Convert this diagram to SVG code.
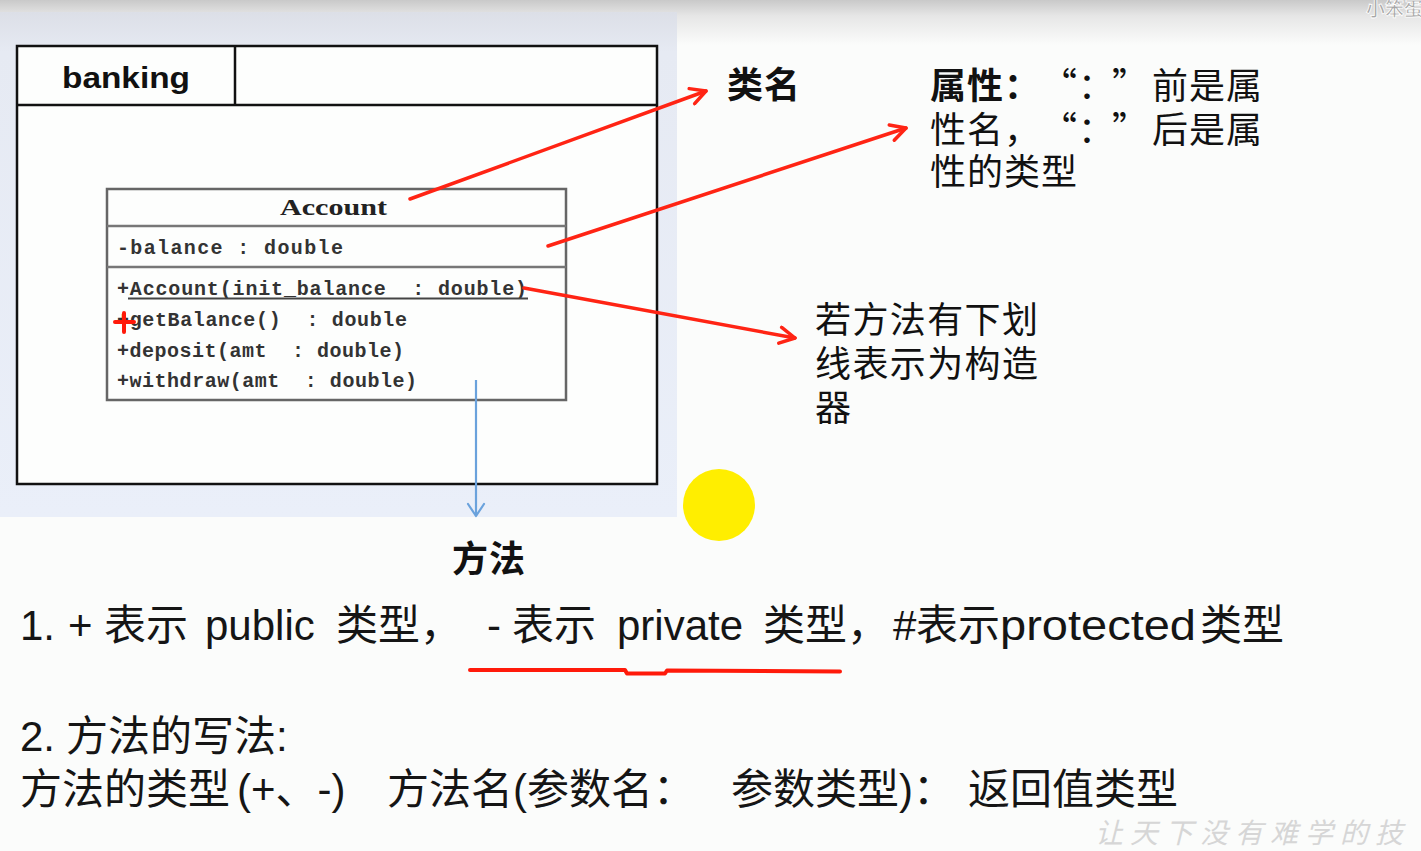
<svg xmlns="http://www.w3.org/2000/svg" width="1421" height="851" viewBox="0 0 1421 851">
  <defs>
    <linearGradient id="topShade" x1="0" y1="0" x2="0" y2="1">
      <stop offset="0" stop-color="#c9c9c9"/>
      <stop offset="0.35" stop-color="#e6e6e6"/>
      <stop offset="1" stop-color="#fbfcfb"/>
    </linearGradient>
    <linearGradient id="panelShade" x1="0" y1="0" x2="0" y2="1">
      <stop offset="0" stop-color="#dcdfe7"/>
      <stop offset="0.08" stop-color="#e6eaf3"/>
      <stop offset="1" stop-color="#eaeff9"/>
    </linearGradient>
    <marker id="redHead" viewBox="0 0 20 20" refX="18" refY="10" markerWidth="20" markerHeight="20" orient="auto" markerUnits="userSpaceOnUse">
      <path d="M3,2 L18,10 L3,18" fill="none" stroke="#ff2414" stroke-width="3.5" stroke-linecap="round" stroke-linejoin="round"/>
    </marker>
    <marker id="blueHead" viewBox="0 0 20 20" refX="18" refY="10" markerWidth="20" markerHeight="20" orient="auto" markerUnits="userSpaceOnUse">
      <path d="M6,2 L18,10 L6,18" fill="none" stroke="#6aa2dc" stroke-width="2.2" stroke-linecap="round" stroke-linejoin="round"/>
    </marker>
    <style>
      .pkg { fill: #fdfefd; stroke: #111; stroke-width: 2.5; }
      .pkgLine { stroke: #111; stroke-width: 2.5; }
      .cls { fill: #fdfefd; stroke: #666; stroke-width: 2.5; }
      .clsLine { stroke: #777; stroke-width: 2.5; }
      .mono { font-family: "Liberation Mono", "DejaVu Sans Mono", monospace; font-size: 20px; font-weight: bold; fill: #333; }
      .title { font-family: "Liberation Serif", "DejaVu Serif", serif; font-size: 23px; font-weight: bold; fill: #222; }
      .pkgName { font-family: "Liberation Sans", "DejaVu Sans", sans-serif; font-size: 30px; font-weight: bold; fill: #111; }
      .cjk { font-family: "Noto Sans CJK SC", "Liberation Sans", sans-serif; font-size: 36px; fill: #111; }
      .bold { font-weight: bold; }
      .body { font-family: "Liberation Sans", "Noto Sans CJK SC", sans-serif; font-size: 42px; fill: #151515; }
      .redArrow { fill: none; stroke: #ff2414; stroke-width: 3.5; stroke-linecap: round; marker-end: url(#redHead); }
      .blueArrow { fill: none; stroke: #6aa2dc; stroke-width: 2.2; marker-end: url(#blueHead); }
      .mark { fill: none; stroke: #ff1a0a; stroke-width: 4; stroke-linecap: round; stroke-linejoin: round; }
    </style>
  </defs>

  <!-- page background -->
  <rect x="0" y="0" width="1421" height="851" fill="#fbfcfb"/>
  <rect x="0" y="0" width="1421" height="45" fill="url(#topShade)"/>
  <rect x="0" y="12" width="677" height="505" fill="url(#panelShade)"/>

  <!-- corner watermarks -->
  <text x="1366" y="16" font-family="Noto Sans CJK SC, sans-serif" font-size="19" font-weight="bold" fill="#a6a6a6" stroke="#ffffff" stroke-width="0.8">小笨蛋</text>
  <text x="1095" y="843" font-family="Noto Sans CJK SC, sans-serif" font-size="28" font-style="italic" letter-spacing="7" fill="#d6d6d6">让天下没有难学的技</text>

  <!-- package: banking -->
  <g id="banking">
    <rect class="pkg" x="17" y="46" width="640" height="438"/>
    <line class="pkgLine" x1="17" y1="105" x2="657" y2="105"/>
    <line class="pkgLine" x1="235" y1="46" x2="235" y2="105"/>
    <text class="pkgName" x="62" y="88" textLength="128" lengthAdjust="spacingAndGlyphs">banking</text>
  </g>

  <!-- class: Account -->
  <g id="account">
    <rect class="cls" x="107" y="189" width="459" height="211"/>
    <line class="clsLine" x1="107" y1="226" x2="566" y2="226"/>
    <line class="clsLine" x1="107" y1="267" x2="566" y2="267"/>
    <text class="title" x="280" y="215" textLength="107" lengthAdjust="spacingAndGlyphs">Account</text>
    <text class="mono" x="117" y="254" textLength="226" xml:space="preserve">-balance : double</text>
    <text class="mono" x="117" y="295" textLength="410" xml:space="preserve">+Account(init_balance  : double)</text>
    <line x1="128" y1="298.5" x2="528" y2="298.5" stroke="#444" stroke-width="1.8"/>
    <text class="mono" x="117" y="326" textLength="290" xml:space="preserve">+getBalance()  : double</text>
    <text class="mono" x="117" y="357" textLength="287" xml:space="preserve">+deposit(amt  : double)</text>
    <text class="mono" x="117" y="387" textLength="300" xml:space="preserve">+withdraw(amt  : double)</text>
    <!-- hand-drawn red plus over the getBalance visibility mark -->
    <path class="mark" d="M115,322 L134,322 M124,313 L124,332"/>
  </g>

  <!-- callout labels -->
  <g id="label-classname">
    <text class="cjk bold" x="727" y="98" font-size="37" textLength="73">类名</text>
  </g>
  <g id="label-attribute">
    <text class="cjk" y="99"><tspan class="bold" x="930 967 1004">属性：</tspan><tspan x="1041 1078 1112 1152 1189 1226">“：”前是属</tspan></text>
    <text class="cjk" y="143"><tspan x="930 967 1004 1041 1078 1112 1152 1189 1226">性名，“：”后是属</tspan></text>
    <text class="cjk" y="185"><tspan x="930 967 1004 1041">性的类型</tspan></text>
  </g>
  <g id="label-constructor">
    <text class="cjk" x="815" y="333" textLength="223">若方法有下划</text>
    <text class="cjk" x="815" y="377" textLength="223">线表示为构造</text>
    <text class="cjk" x="815" y="421">器</text>
  </g>
  <g id="label-method">
    <text class="cjk bold" x="452" y="572" font-size="37" textLength="73">方法</text>
  </g>

  <!-- connectors -->
  <g id="connectors">
    <path class="redArrow" d="M410,199 L706,91"/>
    <path class="redArrow" d="M548,246 L906,128"/>
    <path class="redArrow" d="M524,288 L795,338"/>
    <path class="blueArrow" d="M476,380 L476,516"/>
  </g>

  <!-- pointer highlight -->
  <circle cx="719" cy="505" r="36" fill="#ffee00"/>

  <!-- notes -->
  <g id="note-visibility">
    <text class="body" y="640"><tspan x="20">1.</tspan><tspan x="68">+</tspan><tspan x="104">表示</tspan><tspan x="205">public</tspan><tspan x="336">类型，</tspan><tspan x="487">-</tspan><tspan x="512">表示</tspan><tspan x="617">private</tspan><tspan x="763">类型，</tspan><tspan x="893">#</tspan><tspan x="916">表示</tspan></text>
    <text class="body" x="1000" y="640" textLength="196" lengthAdjust="spacingAndGlyphs">protected</text>
    <text class="body" x="1200" y="640">类型</text>
    <path class="mark" d="M470,670 L625,670 L627,673.5 L665,673.5 L667,670.5 L840,671.5"/>
  </g>
  <g id="note-syntax">
    <text class="body" y="751" font-size="44"><tspan x="20">2.</tspan><tspan x="66">方法的写法:</tspan></text>
    <text class="body" y="804" font-size="44"><tspan x="20">方法的类型</tspan><tspan x="237">(+、-)</tspan><tspan x="387">方法名(参数名：</tspan><tspan x="731">参数类型)：</tspan><tspan x="968">返回值类型</tspan></text>
  </g>
</svg>
